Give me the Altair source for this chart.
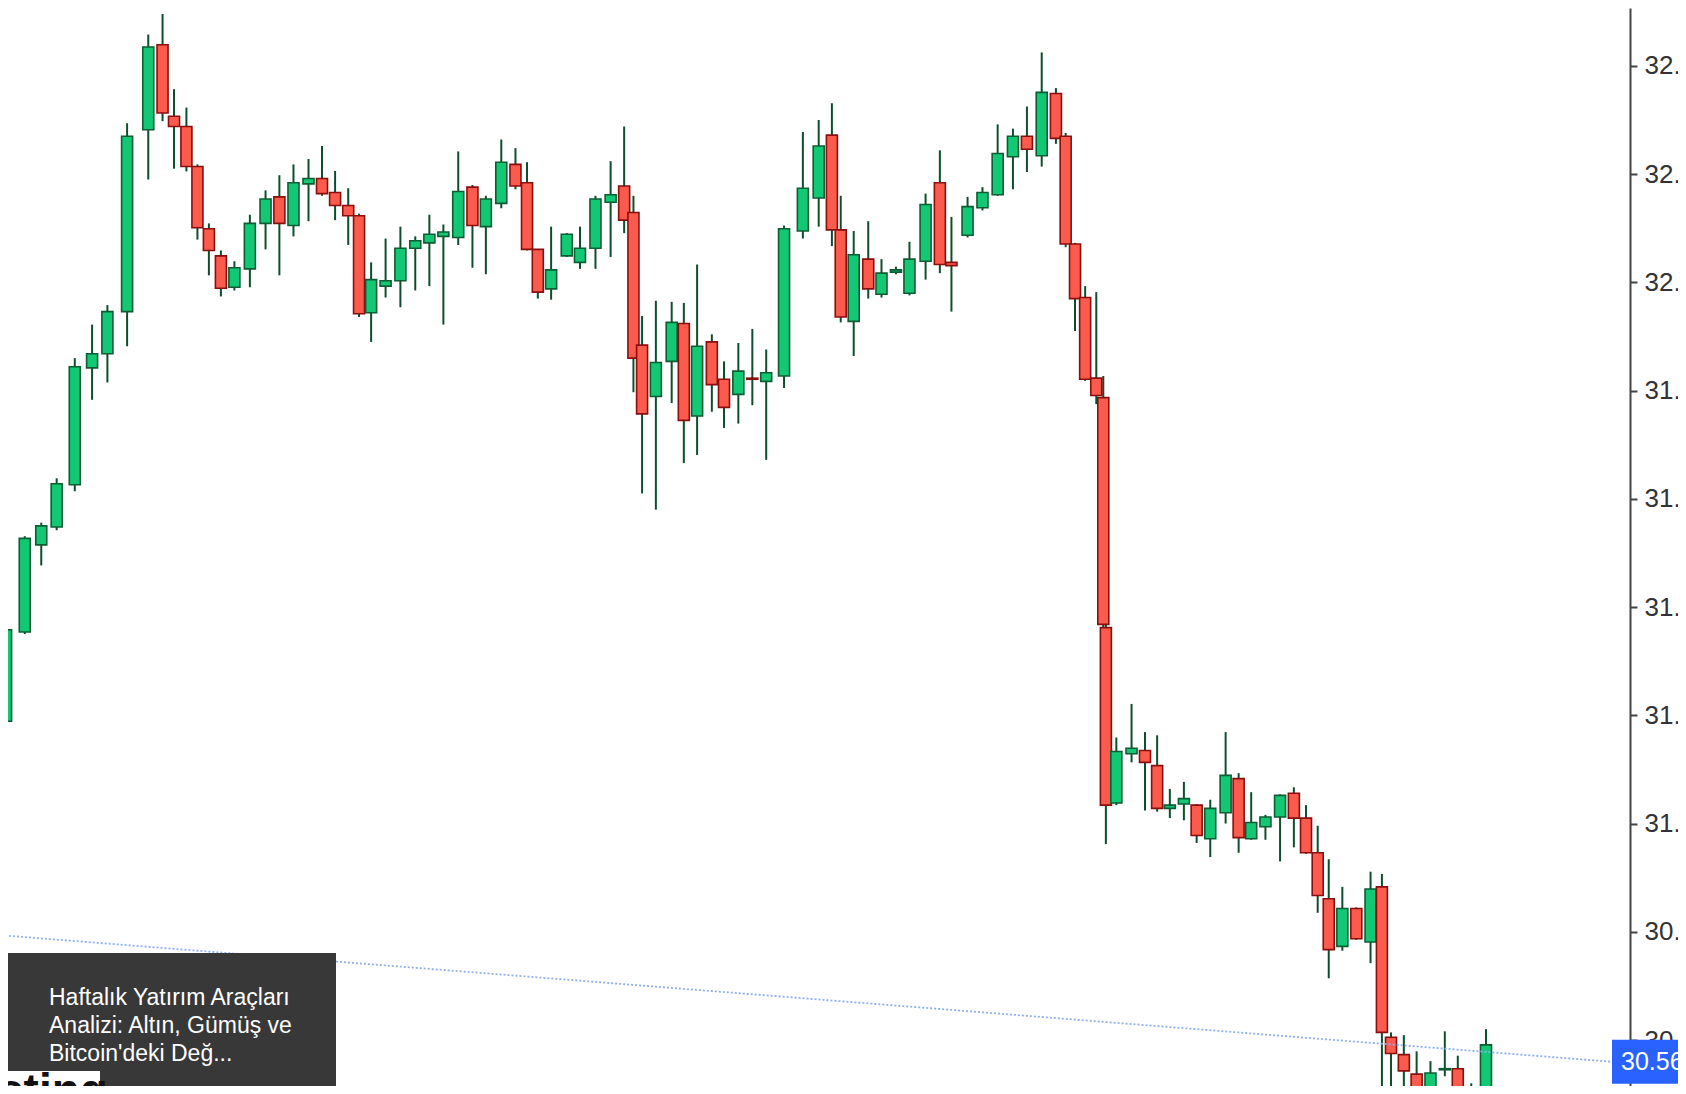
import altair as alt
import pandas as pd

# ---- candle data (price values) ----
opens = [31.189, 31.354, 31.515, 31.548, 31.626, 31.842, 31.868, 31.946, 32.282, 32.439,
         32.307, 32.288, 32.214, 32.099, 32.049, 31.991, 32.025, 32.109, 32.158, 32.105,
         32.182, 32.192, 32.166, 32.142, 32.123, 31.944, 31.993, 32.003, 32.063, 32.073,
         32.085, 32.083, 32.176, 32.103, 32.146, 32.218, 32.184, 32.061, 31.988, 32.049,
         32.037, 32.063, 32.148, 32.178, 32.129, 31.884, 31.789, 31.854, 31.924, 31.753,
         31.890, 31.821, 31.793, 31.823, 31.817, 31.827, 32.095, 32.156, 32.272, 32.097,
         31.928, 32.043, 31.978, 32.019, 31.980, 32.039, 32.184, 32.037, 32.087, 32.138,
         32.162, 32.232, 32.270, 32.234, 32.349, 32.270, 32.071, 31.972, 31.823, 31.787,
         31.362, 31.038, 31.129, 31.135, 31.107, 31.028, 31.036, 31.034, 30.972, 31.020,
         31.083, 30.972, 30.994, 31.012, 31.056, 31.010, 30.946, 30.861, 30.773, 30.843,
         30.781, 30.883, 30.605, 30.573, 30.537, 30.513, 30.545, 30.547, 30.507, 30.490]
closes = [31.358, 31.527, 31.550, 31.628, 31.844, 31.868, 31.946, 32.270, 32.435, 32.313,
          32.288, 32.214, 32.101, 32.059, 31.989, 32.027, 32.109, 32.154, 32.109, 32.184,
          32.192, 32.164, 32.142, 32.123, 31.942, 32.005, 32.003, 32.063, 32.077, 32.089,
          32.093, 32.168, 32.105, 32.154, 32.222, 32.178, 32.061, 31.982, 32.023, 32.089,
          32.063, 32.154, 32.162, 32.115, 31.860, 31.757, 31.852, 31.926, 31.745, 31.882,
          31.811, 31.769, 31.836, 31.821, 31.833, 32.099, 32.174, 32.252, 32.097, 31.936,
          32.051, 31.988, 32.017, 32.023, 32.043, 32.144, 32.033, 32.031, 32.140, 32.166,
          32.238, 32.270, 32.246, 32.351, 32.266, 32.071, 31.970, 31.821, 31.791, 31.368,
          31.034, 31.133, 31.139, 31.113, 31.028, 31.034, 31.046, 30.978, 31.028, 31.089,
          30.974, 31.002, 31.012, 31.052, 31.010, 30.946, 30.867, 30.767, 30.843, 30.787,
          30.879, 30.614, 30.575, 30.543, 30.511, 30.539, 30.547, 30.490, 30.511, 30.591]
highs = [31.401, 31.531, 31.556, 31.638, 31.860, 31.922, 31.958, 32.294, 32.458, 32.496,
         32.357, 32.323, 32.218, 32.109, 32.059, 32.039, 32.125, 32.170, 32.198, 32.218,
         32.228, 32.252, 32.206, 32.174, 32.127, 32.037, 32.081, 32.103, 32.085, 32.125,
         32.107, 32.242, 32.180, 32.160, 32.264, 32.248, 32.222, 32.061, 32.103, 32.091,
         32.103, 32.160, 32.224, 32.288, 32.160, 31.938, 31.966, 31.964, 31.962, 32.033,
         31.904, 31.854, 31.888, 31.914, 31.876, 32.105, 32.278, 32.300, 32.331, 32.160,
         32.095, 32.113, 32.043, 32.029, 32.075, 32.164, 32.244, 32.121, 32.158, 32.176,
         32.292, 32.284, 32.325, 32.425, 32.359, 32.276, 32.073, 31.993, 31.982, 31.827,
         31.417, 31.159, 31.221, 31.169, 31.163, 31.064, 31.077, 31.036, 31.044, 31.169,
         31.093, 31.058, 31.016, 31.054, 31.067, 31.034, 30.996, 30.934, 30.883, 30.845,
         30.911, 30.907, 30.614, 30.609, 30.579, 30.561, 30.616, 30.571, 30.520, 30.620]
lows = [31.185, 31.350, 31.477, 31.542, 31.614, 31.783, 31.815, 31.882, 32.190, 32.298,
        32.210, 32.205, 32.079, 32.013, 31.974, 31.985, 31.991, 32.061, 32.013, 32.085,
        32.113, 32.160, 32.115, 32.069, 31.936, 31.890, 31.972, 31.954, 31.985, 31.993,
        31.922, 32.069, 32.027, 32.015, 32.137, 32.172, 32.059, 31.970, 31.968, 32.047,
        32.025, 32.025, 32.047, 32.091, 31.797, 31.610, 31.580, 31.777, 31.666, 31.681,
        31.761, 31.731, 31.739, 31.773, 31.672, 31.805, 32.081, 32.103, 32.067, 31.926,
        31.864, 31.970, 31.972, 32.015, 31.976, 32.005, 32.017, 31.946, 32.083, 32.133,
        32.160, 32.172, 32.204, 32.214, 32.256, 32.065, 31.910, 31.818, 31.775, 31.262,
        30.962, 31.034, 31.113, 31.024, 31.022, 31.010, 31.006, 30.964, 30.938, 31.000,
        30.946, 30.970, 30.970, 30.930, 30.956, 30.944, 30.835, 30.714, 30.765, 30.785,
        30.742, 30.480, 30.480, 30.480, 30.480, 30.480, 30.533, 30.480, 30.480, 30.480]

price_ticks = [30.60, 30.80, 31.00, 31.20, 31.40, 31.60, 31.80, 32.00, 32.20, 32.40]
last_price = 30.56
last_label = "30.56"
# the current-price guide as it appears in the (slightly tilted) picture
level_pos = [2.45, 118.97]
level_price = [30.793, 30.56]

news_lines = ["Haftalık Yatırım Araçları", "Analizi: Altın, Gümüş ve", "Bitcoin'deki Değ..."]
logo_text = "sting"

# ---- layout ----
W, H = 1622, 1078
X_DOMAIN = [3.03, 120.05]
Y_DOMAIN = [30.515, 32.507]
PX_PER_UNIT = H / (Y_DOMAIN[1] - Y_DOMAIN[0])
SHEAR = 2.14          # the screenshot is slightly rotated: higher candles sit further right
SHEAR_REF = 30.56

GREEN = "#12c874"
GREEN_EDGE = "#0b5e33"
RED = "#fb5b4c"
RED_EDGE = "#8b0e0e"
WICK = "#0d4f2c"
FONT = "Liberation Sans"

df = pd.DataFrame({
    "i": list(range(1, len(opens) + 1)),
    "open": opens, "close": closes, "high": highs, "low": lows,
})

xs = alt.Scale(domain=X_DOMAIN, nice=False, zero=False)
ys = alt.Scale(domain=Y_DOMAIN, nice=False, zero=False)
x_enc = alt.X("xd:Q", scale=xs, axis=None)

base = alt.Chart(df).transform_calculate(
    xd=f"datum.i + {SHEAR} * ((datum.open + datum.close) / 2 - {SHEAR_REF})"
)

wicks = base.mark_rule(strokeWidth=2, color=WICK, clip=True).encode(
    x=x_enc,
    y=alt.Y("low:Q", scale=ys, axis=alt.Axis(
        orient="right", values=price_ticks, format=".2f", title=None, grid=False,
        labelFont=FONT, labelFontSize=26, labelColor="#333333", labelPadding=7,
        domainColor="#444444", domainWidth=2, tickColor="#444444", tickWidth=2,
        tickSize=7, labelOverlap=False)),
    y2="high:Q",
)

up = "datum.close >= datum.open"
bodies = base.mark_bar(size=11, strokeWidth=1.6, clip=True).encode(
    x=x_enc,
    y=alt.Y("open:Q", scale=ys),
    y2="close:Q",
    fill=alt.condition(up, alt.value(GREEN), alt.value(RED)),
    stroke=alt.condition(up, alt.value(GREEN_EDGE), alt.value(RED_EDGE)),
)

level_df = pd.DataFrame({"xd": level_pos, "p": level_price})
level = alt.Chart(level_df).mark_line(
    color="#8fb0f0", strokeWidth=1.8, strokeDash=[2, 2], clip=True
).encode(x=x_enc, y=alt.Y("p:Q", scale=ys))

half = 22 / PX_PER_UNIT
box_df = pd.DataFrame({"p": [last_price], "top": [last_price + half],
                       "bot": [last_price - half], "label": [last_label]})
price_box = alt.Chart(box_df).mark_rect(color="#2962ff").encode(
    x=alt.value(1604), x2=alt.value(1700),
    y=alt.Y("top:Q", scale=ys), y2="bot:Q",
)
price_txt = alt.Chart(box_df).mark_text(
    align="left", baseline="middle", font=FONT, fontSize=25, color="white"
).encode(x=alt.value(1613), y=alt.Y("p:Q", scale=ys), text="label:N")

one = pd.DataFrame({"k": [0]})
news_box = alt.Chart(one).mark_rect(color="#383838").encode(
    x=alt.value(-4), x2=alt.value(328), y=alt.value(945), y2=alt.value(1090)
)
news_txt = alt.Chart(one).mark_text(
    align="left", baseline="middle", font=FONT, fontSize=23, color="white",
    lineHeight=28, text=news_lines
).encode(x=alt.value(41), y=alt.value(990))

logo_bg = alt.Chart(one).mark_rect(color="white").encode(
    x=alt.value(-8), x2=alt.value(92), y=alt.value(1063), y2=alt.value(1090)
)
logo = alt.Chart(one).mark_text(
    align="left", baseline="top", font=FONT, fontSize=46, fontWeight="bold",
    color="#111111", text=logo_text
).encode(x=alt.value(-10), y=alt.value(1062))

chart = alt.layer(
    wicks, bodies, level, price_box, price_txt, news_box, news_txt, logo_bg, logo
).properties(
    width=W, height=H,
    autosize=alt.AutoSizeParams(type="none"),
    padding={"left": 0, "top": 0, "right": 48, "bottom": 0},
    background="white",
).configure_view(strokeWidth=0)

chart.save("out.html", embed_options={"renderer": "svg", "actions": False})
